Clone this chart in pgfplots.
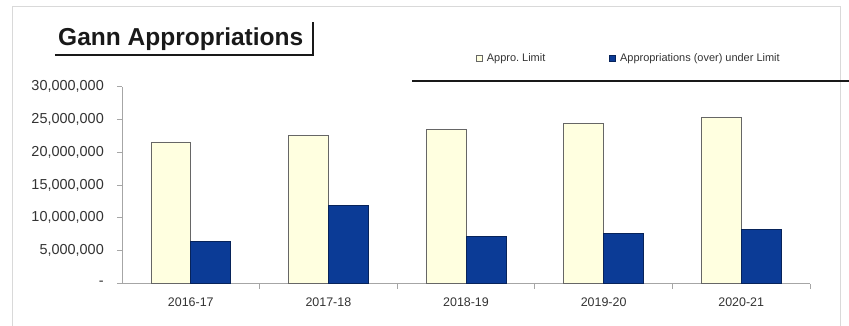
\documentclass[border=0pt]{standalone}
\usepackage{pgfplots}
\pgfplotsset{compat=1.18}
\usepackage{fontspec}
\setmainfont{Liberation Sans}
\frenchspacing
\definecolor{cream}{HTML}{FFFFE0}
\definecolor{dblue}{HTML}{0B3B96}
\definecolor{txt}{HTML}{333333}
\begin{document}
\begin{tikzpicture}[x=1bp,y=1bp]
\useasboundingbox (-122,-41.5) rectangle (727,283.5);
\draw[gray!30, line width=0.8bp] (-110,-45) -- (-110,277.5) -- (718,277.5) -- (718,-45);
\begin{axis}[
  scale only axis, width=688bp, height=197bp,
  xmin=-0.5, xmax=4.5, ymin=0, ymax=30000000,
  axis x line=bottom, axis y line=left,
  axis line style={-, draw=gray!70, line width=0.8bp},
  tick align=outside,
  tick style={gray!70, line width=0.7bp},
  major tick length=5bp, minor tick length=5bp,
  xtick={0,1,2,3,4},
  xticklabels={2016-17,2017-18,2018-19,2019-20,2020-21},
  minor xtick={0.5,1.5,2.5,3.5,4.5},
  major x tick style={draw=none},
  ytick={0,5000000,10000000,15000000,20000000,25000000,30000000},
  yticklabels={{-\hspace{7bp}},{5,000,000},{10,000,000},{15,000,000},{20,000,000},{25,000,000},{30,000,000}},
  scaled y ticks=false,
  yticklabel style={font=\fontsize{14.5}{16}\selectfont, text=txt, inner sep=0pt, xshift=-13bp},
  xticklabel style={font=\fontsize{12.5}{14}\selectfont, text=txt, inner sep=0pt, yshift=-9bp},
  ybar=0pt, bar width=0.29,
  legend style={at={(0.51,1.1447)}, anchor=west, draw=none, fill=none,
    font=\fontsize{11}{13}\selectfont, text=txt, legend columns=2,
    /tikz/every even column/.append style={column sep=62bp}},
  legend image code/.code={\draw[#1, line width=0.6bp] (0bp,-3bp) rectangle (6bp,3bp); \path[draw=none,fill=none] (0bp,0bp) -- (8.5bp,0bp);},
]
\addplot[fill=cream, draw=gray!80!black, line width=0.7bp, bar shift=-0.145]
  coordinates {(0,21550000) (1,22500000) (2,23480000) (3,24400000) (4,25350000)};
\addplot[fill=dblue, draw=dblue!60!black, line width=0.7bp, bar shift=0.145]
  coordinates {(0,6470000) (1,11850000) (2,7230000) (3,7640000) (4,8300000)};
\legend{Appro.\ Limit, Appropriations (over) under Limit}
\end{axis}
\node[anchor=base west, inner sep=0pt, font=\bfseries\fontsize{24.6}{28}\selectfont, text=black!90] at (-64,238.5) {Gann Appropriations};
\draw[line width=2.8bp, black!90] (-67,228.5) -- (191,228.5) -- (191,261.5);
\draw[line width=2.8bp, black!90] (290,202.5) -- (727,202.5);
\end{tikzpicture}
\end{document}
